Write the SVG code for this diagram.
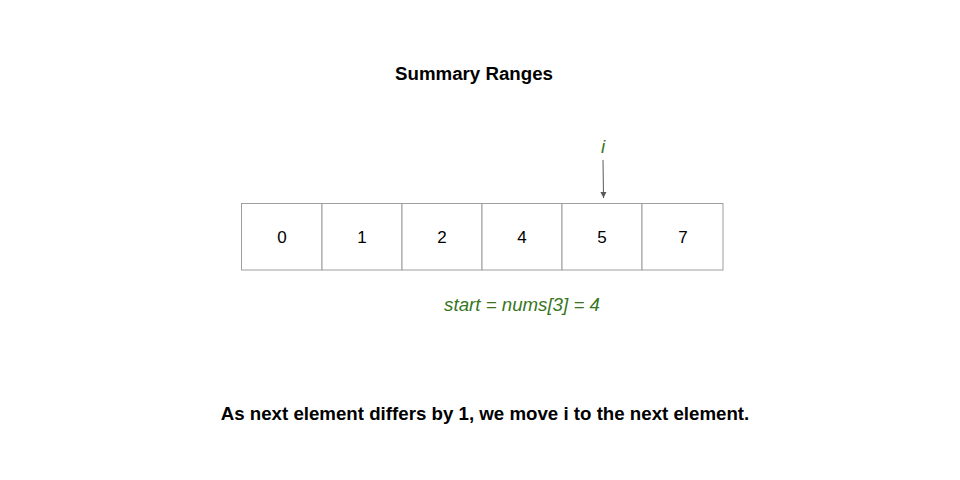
<svg xmlns="http://www.w3.org/2000/svg" width="960" height="480" viewBox="0 0 960 480">
<style>
.cell{fill:#fff;stroke:#9e9e9e;stroke-width:1}
.num{font-family:"Liberation Sans",Arial,sans-serif;font-size:17px;fill:#000;text-anchor:middle}
.green{font-family:"Liberation Sans",Arial,sans-serif;font-size:18.7px;fill:#38761d;font-style:italic;text-anchor:middle}
.bold{font-family:"Liberation Sans",Arial,sans-serif;font-size:18.7px;font-weight:bold;fill:#000;text-anchor:middle}
</style>
<defs>
<marker id="ah" markerWidth="8" markerHeight="8" refX="7" refY="4" orient="auto" markerUnits="userSpaceOnUse" viewBox="0 0 8 8">
<path d="M1,1 L7,4 L1,7 Z" fill="#595959"/>
</marker>
</defs>
<rect width="960" height="480" fill="#fff"/>
<text id="title" class="bold" x="474" y="80">Summary Ranges</text>
<g id="cell0"><rect class="cell" x="241.5" y="203.5" width="80.5" height="66.5"/><text class="num" x="282" y="243">0</text></g>
<g id="cell1"><rect class="cell" x="322" y="203.5" width="80" height="66.5"/><text class="num" x="362" y="243">1</text></g>
<g id="cell2"><rect class="cell" x="402" y="203.5" width="80" height="66.5"/><text class="num" x="442" y="243">2</text></g>
<g id="cell3"><rect class="cell" x="482" y="203.5" width="80" height="66.5"/><text class="num" x="522" y="243">4</text></g>
<g id="cell4"><rect class="cell" x="562" y="203.5" width="80" height="66.5"/><text class="num" x="602" y="243">5</text></g>
<g id="cell5"><rect class="cell" x="642" y="203.5" width="81" height="66.5"/><text class="num" x="683" y="243">7</text></g>
<g id="pointer"><text class="green" x="603" y="153">i</text></g>
<g id="connectors">
<line x1="603" y1="160" x2="603.5" y2="198" stroke="#595959" stroke-width="1" marker-end="url(#ah)"/>
</g>
<text id="start" class="green" x="522" y="311">start = nums[3] = 4</text>
<text id="caption" class="bold" x="485" y="420">As next element differs by 1, we move i to the next element.</text>
</svg>
